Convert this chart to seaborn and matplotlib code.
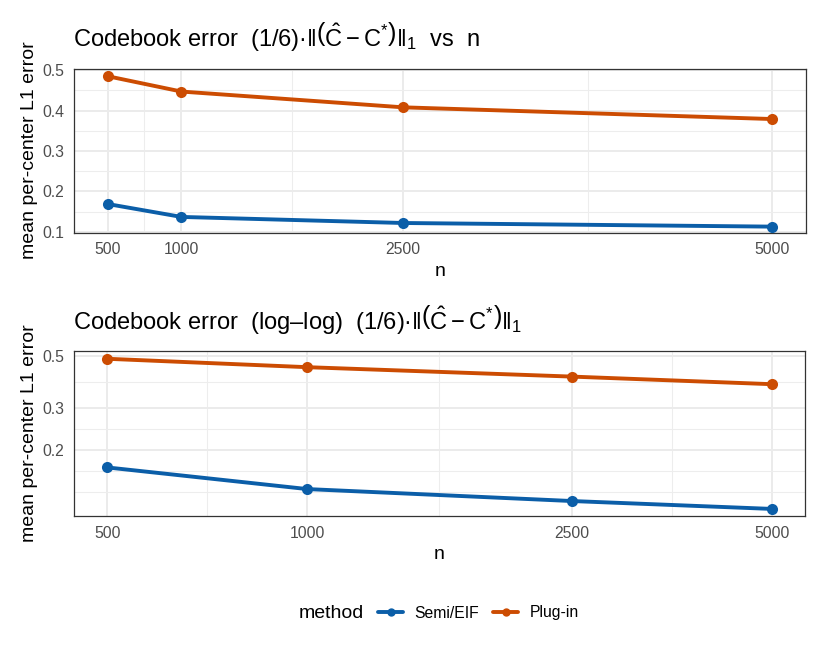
import numpy as np
import pandas as pd
import seaborn as sns
import matplotlib.pyplot as plt
from matplotlib.lines import Line2D
from matplotlib.ticker import FixedLocator, NullFormatter

# data
n_values = [500, 1000, 2500, 5000]
semi_eif = [0.169, 0.137, 0.122, 0.113]
plug_in = [0.485, 0.447, 0.408, 0.379]
methods = ["Semi/EIF", "Plug-in"]
colors = {"Semi/EIF": "#0B5EA8", "Plug-in": "#CC4C02"}

df = pd.DataFrame({
    "n": n_values * 2,
    "err": semi_eif + plug_in,
    "method": ["Semi/EIF"] * 4 + ["Plug-in"] * 4,
})

sns.set_theme(style="white")
plt.rcParams["font.family"] = ["Liberation Sans", "DejaVu Sans"]
plt.rcParams["mathtext.fontset"] = "custom"
plt.rcParams["mathtext.rm"] = "Liberation Sans"
plt.rcParams["mathtext.it"] = "Liberation Sans:italic"
plt.rcParams["mathtext.bf"] = "Liberation Sans:bold"
plt.rcParams["text.color"] = "black"
plt.rcParams["axes.labelcolor"] = "black"

W, H = 825, 650
fig = plt.figure(figsize=(W / 100, H / 100), dpi=100)


def px_axes(left, top, right, bottom):
    return fig.add_axes([left / W, 1 - bottom / H, (right - left) / W, (bottom - top) / H])


ax1 = px_axes(74.3, 68.5, 805.7, 232.7)
ax2 = px_axes(74.0, 351.0, 805.0, 516.0)

for ax in (ax1, ax2):
    sns.lineplot(data=df, x="n", y="err", hue="method", hue_order=methods,
                 palette=colors, marker="o", markersize=8, markeredgewidth=0,
                 linewidth=2.8, legend=False, ax=ax, zorder=3)

# top panel: linear
ax1.set_xlim(275, 5225)
ax1.set_ylim(0.098, 0.504)
ax1.xaxis.set_major_locator(FixedLocator(n_values))
ax1.xaxis.set_minor_locator(FixedLocator([750, 1750, 3750]))
ax1.yaxis.set_major_locator(FixedLocator([0.1, 0.2, 0.3, 0.4, 0.5]))
ax1.yaxis.set_minor_locator(FixedLocator([0.15, 0.25, 0.35, 0.45]))
ax1.set_yticklabels(["0.1", "0.2", "0.3", "0.4", "0.5"])
ax1.set_xticklabels([str(v) for v in n_values])

# bottom panel: log-log
ax2.set_xscale("log")
ax2.set_yscale("log")
lx = np.log10(n_values)
pad = 0.05 * (lx[-1] - lx[0])
ax2.set_xlim(10 ** (lx[0] - pad), 10 ** (lx[-1] + pad))
ax2.set_ylim(0.1055, 0.523)
ax2.xaxis.set_major_locator(FixedLocator(n_values))
ax2.xaxis.set_minor_locator(FixedLocator([np.sqrt(a * b) for a, b in zip(n_values[:-1], n_values[1:])]))
ax2.xaxis.set_minor_formatter(NullFormatter())
ax2.set_xticklabels([str(v) for v in n_values])
ybreaks = [0.2, 0.3, 0.5]
ax2.yaxis.set_major_locator(FixedLocator(ybreaks))
ax2.yaxis.set_minor_locator(FixedLocator([np.sqrt(0.3 * 0.5), np.sqrt(0.2 * 0.3),
                                          0.2 / np.sqrt(1.5), 0.2 / 1.5]))
ax2.yaxis.set_minor_formatter(NullFormatter())
ax2.set_yticklabels(["0.2", "0.3", "0.5"])

for ax in (ax1, ax2):
    ax.set_axisbelow(True)
    ax.grid(True, which="major", color="#EBEBEB", linewidth=1.4)
    ax.grid(True, which="minor", color="#EDEDED", linewidth=0.8)
    for s in ax.spines.values():
        s.set_visible(True)
        s.set_color("#333333")
        s.set_linewidth(0.9)
    ax.tick_params(which="major", length=3.5, width=0.9, color="#333333",
                   labelsize=11.3, labelcolor="#4D4D4D", pad=3.5)
    ax.tick_params(which="minor", length=0)
    ax.set_xlabel("n", fontsize=14, labelpad=4)
    ax.set_ylabel("mean per-center L1 error", fontsize=14, labelpad=3)

mexpr = (r"$(1/6)" + "\u00b7" +
         r"\Vert\left(\hat{\mathrm{C}}-\mathrm{C}^{*}\right)\Vert_{1}$")
ax1.set_title("Codebook error  " + mexpr + "  vs  n", loc="left", fontsize=17, pad=16, x=-0.002)
ax2.set_title("Codebook error  (log\u2013log)  " + mexpr, loc="left", fontsize=17, pad=16, x=-0.002)

# legend at the bottom
fig.text(299 / W, 1 - 613 / H, "method", fontsize=14, va="center", ha="left")
handles = [Line2D([0], [0], color=colors[m], marker="o", markersize=6, linewidth=2.8,
                  markeredgewidth=0) for m in methods]
fig.legend(handles, methods, loc="center left", bbox_to_anchor=(372 / W, 1 - 613 / H),
           ncol=2, frameon=False, fontsize=11.3, handlelength=1.6, handletextpad=0.7,
           columnspacing=0.9, borderaxespad=0)

fig.savefig("out.png", dpi=100)
